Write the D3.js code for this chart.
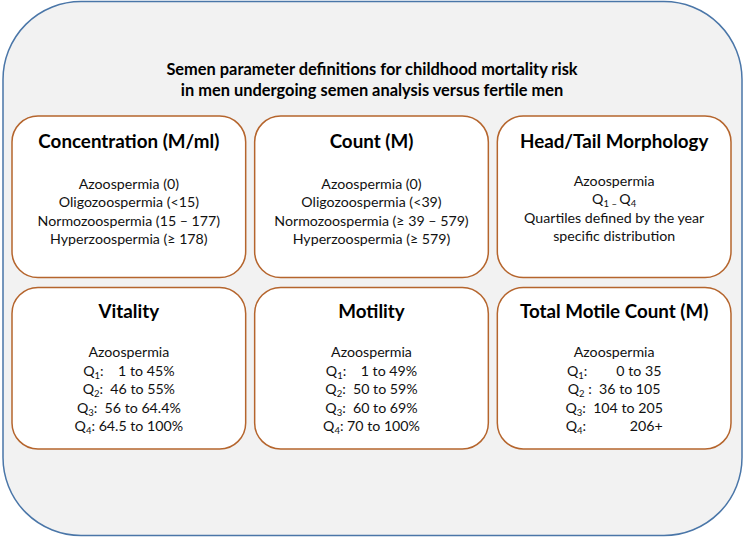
<!DOCTYPE html>
<html><head><meta charset="utf-8">
<script src="https://cdn.jsdelivr.net/npm/d3@7/dist/d3.min.js"></script>
<style>html,body{margin:0;padding:0;background:#fff}svg{display:block}</style>
</head><body>
<script>
const titleLines = ["Semen parameter definitions for childhood mortality risk", "in men undergoing semen analysis versus fertile men"];
const panelTitles = ["Concentration (M/ml)", "Count (M)", "Head/Tail Morphology", "Vitality", "Motility", "Total Motile Count (M)"];
// each line: array of [text, isSubscript]
const panelLines = [
  [[["Azoospermia (0)"]],[["Oligozoospermia (<15)"]],[["Normozoospermia (15 \u2013 177)"]],[["Hyperzoospermia (\u2265 178)"]]],
  [[["Azoospermia (0)"]],[["Oligozoospermia (<39)"]],[["Normozoospermia (\u2265 39 \u2013 579)"]],[["Hyperzoospermia (\u2265 579)"]]],
  [[["Azoospermia"]],[["Q"],["1 \u2013 ",1],["Q"],["4",1]],[["Quartiles defined by the year"]],[["specific distribution"]]],
  [[["Azoospermia"]],[["Q"],["1",1],[":    1 to 45%"]],[["Q"],["2",1],[":  46 to 55%"]],[["Q"],["3",1],[":  56 to 64.4%"]],[["Q"],["4",1],[": 64.5 to 100%"]]],
  [[["Azoospermia"]],[["Q"],["1",1],[":    1 to 49%"]],[["Q"],["2",1],[":  50 to 59%"]],[["Q"],["3",1],[":  60 to 69%"]],[["Q"],["4",1],[": 70 to 100%"]]],
  [[["Azoospermia"]],[["Q"],["1",1],[":        0 to 35"]],[["Q"],["2",1],[" :  36 to 105"]],[["Q"],["3",1],[":  104 to 205"]],[["Q"],["4",1],[":            206+"]]]
];

const W = 745, H = 538;
const font = "Lato, 'Open Sans', sans-serif";
const svg = d3.select("body").append("svg").attr("width", W).attr("height", H);

svg.append("rect").attr("x", 3).attr("y", 1.5).attr("width", 739).attr("height", 534)
  .attr("rx", 78).attr("ry", 78).attr("fill", "#f2f2f2").attr("stroke", "#4a76a8").attr("stroke-width", 1.5);

svg.append("g").selectAll("text").data(titleLines).join("text")
  .attr("x", 372).attr("y", (d,i) => 75 + i*20.5)
  .attr("text-anchor", "middle").attr("font-family", font).attr("font-weight", "bold")
  .attr("font-size", 16.4).attr("fill", "#000").text(d => d);

const col = d3.scaleBand().domain([0,1,2]).range([12, 731]).paddingInner(0.037);
const row = d3.scaleBand().domain([0,1]).range([116, 449]).paddingInner(0.058);

const g = svg.append("g").selectAll("g").data(panelTitles).join("g")
  .attr("transform", (d,i) => `translate(${col(i%3)},${row(Math.floor(i/3))})`);

g.append("rect").attr("x", 0).attr("y", 0)
  .attr("width", col.bandwidth()).attr("height", row.bandwidth())
  .attr("rx", 26).attr("ry", 26).attr("fill", "#fff").attr("stroke", "#b5652d").attr("stroke-width", 1.5);

g.append("text").attr("x", col.bandwidth()/2).attr("y", (d,i) => i < 3 ? 32 : 31)
  .attr("text-anchor", "middle").attr("font-family", font).attr("font-weight", "bold")
  .attr("font-size", 18.8).attr("fill", "#000").text(d => d);

g.each(function(d, i) {
  const lines = panelLines[i];
  const y0 = i === 2 ? 70 : (i < 3 ? 73 : 70);
  d3.select(this).selectAll("text.l").data(lines).join("text").attr("class", "l")
    .attr("x", col.bandwidth()/2).attr("y", (l,j) => y0 + j*18.4)
    .attr("text-anchor", "middle").attr("font-family", font).attr("font-size", 14.2)
    .attr("fill", "#111").style("white-space", "pre")
    .each(function(l) {
      const t = d3.select(this);
      let shifted = false;
      l.forEach(seg => {
        const s = t.append("tspan").text(seg[0]);
        if (seg[1] && !shifted) { s.attr("font-size", 9.5).attr("dy", 3); shifted = true; }
        else if (seg[1]) { s.attr("font-size", 9.5); }
        else if (shifted) { s.attr("dy", -3); shifted = false; }
      });
    });
});
</script>
</body></html>
